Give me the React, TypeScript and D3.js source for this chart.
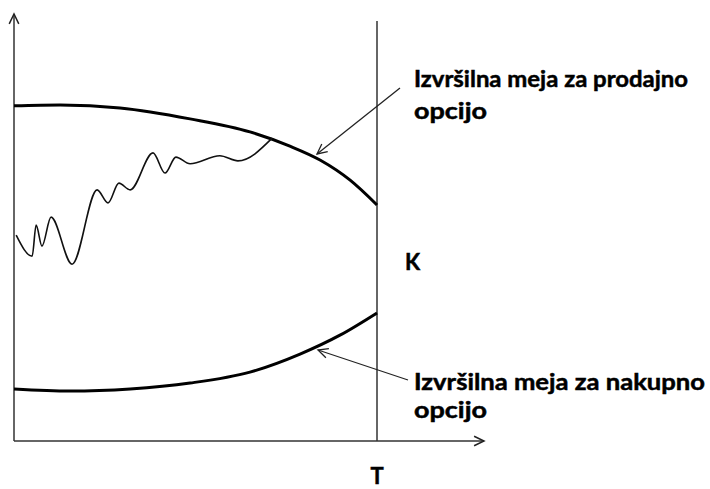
import React from "react";
import * as d3 from "d3";

// Time axis runs 0..100 (T = 100), price axis 0..100.
const T_VALUE = 100;

// Upper exercise boundary (put option)
const putBoundaryX = [0, 12.7, 29.2, 48.5, 65, 76, 84.3, 92.6, 100];
const putBoundaryY = [79.8, 80, 79.3, 76.7, 73.6, 70.2, 66.9, 62.1, 56.2];

// Lower exercise boundary (call option)
const callBoundaryX = [0, 15.4, 32, 48.5, 65, 78.8, 89.8, 100];
const callBoundaryY = [12.4, 11.9, 12.4, 13.8, 16.4, 20.7, 25.2, 30.5];

// Sample price path until it hits the upper boundary
const pathX = [0.6, 5, 6.1, 7.7, 10.2, 16, 22.9, 25.9, 28.9, 32, 38.3, 41.6, 44.6, 48.5, 56.7, 61.7, 71.1];
const pathY = [49, 44, 51.4, 46.4, 53.3, 42.1, 59.8, 56.7, 61.4, 59.8, 68.6, 63.8, 67.6, 66, 67.9, 66.7, 72.1];

const putLabel = ["Izvršilna meja za prodajno", "opcijo"];
const callLabel = ["Izvršilna meja za nakupno", "opcijo"];
const strikeLabel = "K";
const maturityLabel = "T";

const W = 710;
const H = 489;

export default function App() {
  const x = d3.scaleLinear().domain([0, T_VALUE]).range([14, 377]);
  const y = d3.scaleLinear().domain([0, 100]).range([441, 21]);

  const smooth = d3
    .line<[number, number]>()
    .x((d) => x(d[0]))
    .y((d) => y(d[1]))
    .curve(d3.curveMonotoneX);

  const putPts = putBoundaryX.map((v, i) => [v, putBoundaryY[i]] as [number, number]);
  const callPts = callBoundaryX.map((v, i) => [v, callBoundaryY[i]] as [number, number]);
  const pricePts = pathX.map((v, i) => [v, pathY[i]] as [number, number]);

  const x0 = x(0);
  const y0 = y(0);
  const xT = x(T_VALUE);

  const font = "Lato, 'Open Sans', sans-serif";

  // open arrowhead drawn as two short strokes
  const arrowHead = (tx: number, ty: number, fx: number, fy: number, len = 11, spread = 0.45) => {
    const a = Math.atan2(ty - fy, tx - fx);
    const p1 = [tx - len * Math.cos(a - spread), ty - len * Math.sin(a - spread)];
    const p2 = [tx - len * Math.cos(a + spread), ty - len * Math.sin(a + spread)];
    return `M${p1[0]},${p1[1]}L${tx},${ty}L${p2[0]},${p2[1]}`;
  };

  return (
    <svg
      width={W}
      height={H}
      style={{ position: "absolute", left: 0, top: 0, background: "#fff" }}
      viewBox={`0 0 ${W} ${H}`}
    >
      {/* axes */}
      <line x1={x0} y1={y0} x2={x0} y2={14} stroke="#333" strokeWidth={1.5} />
      <path d={arrowHead(x0, 14, x0, y0)} fill="none" stroke="#222" strokeWidth={1.5} />
      <line x1={x0} y1={y0} x2={484} y2={y0} stroke="#333" strokeWidth={1.5} />
      <path d={arrowHead(484, y0, x0, y0)} fill="none" stroke="#222" strokeWidth={1.5} />

      {/* maturity line */}
      <line x1={xT} y1={21} x2={xT} y2={y0} stroke="#333" strokeWidth={1.5} />

      {/* exercise boundaries */}
      <path d={smooth(putPts) ?? ""} fill="none" stroke="#000" strokeWidth={3} />
      <path d={smooth(callPts) ?? ""} fill="none" stroke="#000" strokeWidth={3} />

      {/* price path */}
      <path d={smooth(pricePts) ?? ""} fill="none" stroke="#111" strokeWidth={1.6} />

      {/* pointers from labels */}
      <line x1={400} y1={88} x2={317} y2={154} stroke="#222" strokeWidth={1.3} />
      <path d={arrowHead(317, 154, 400, 88)} fill="none" stroke="#222" strokeWidth={1.3} />
      <line x1={408} y1={380} x2={318} y2={350} stroke="#222" strokeWidth={1.3} />
      <path d={arrowHead(318, 350, 408, 380)} fill="none" stroke="#222" strokeWidth={1.3} />

      {/* labels */}
      <g fontFamily={font} fontWeight={700} fontSize={23} fill="#000" stroke="#000" strokeWidth={0.5}>
        <text x={414} y={87} textLength={274} lengthAdjust="spacingAndGlyphs">{putLabel[0]}</text>
        <text x={414} y={119} textLength={73} lengthAdjust="spacingAndGlyphs">{putLabel[1]}</text>
        <text x={414} y={390} textLength={291} lengthAdjust="spacingAndGlyphs">{callLabel[0]}</text>
        <text x={414} y={418} textLength={73} lengthAdjust="spacingAndGlyphs">{callLabel[1]}</text>
        <text x={405} y={270} fontSize={22}>{strikeLabel}</text>
        <text x={xT} y={484} fontSize={22} textAnchor="middle">{maturityLabel}</text>
      </g>
    </svg>
  );
}
